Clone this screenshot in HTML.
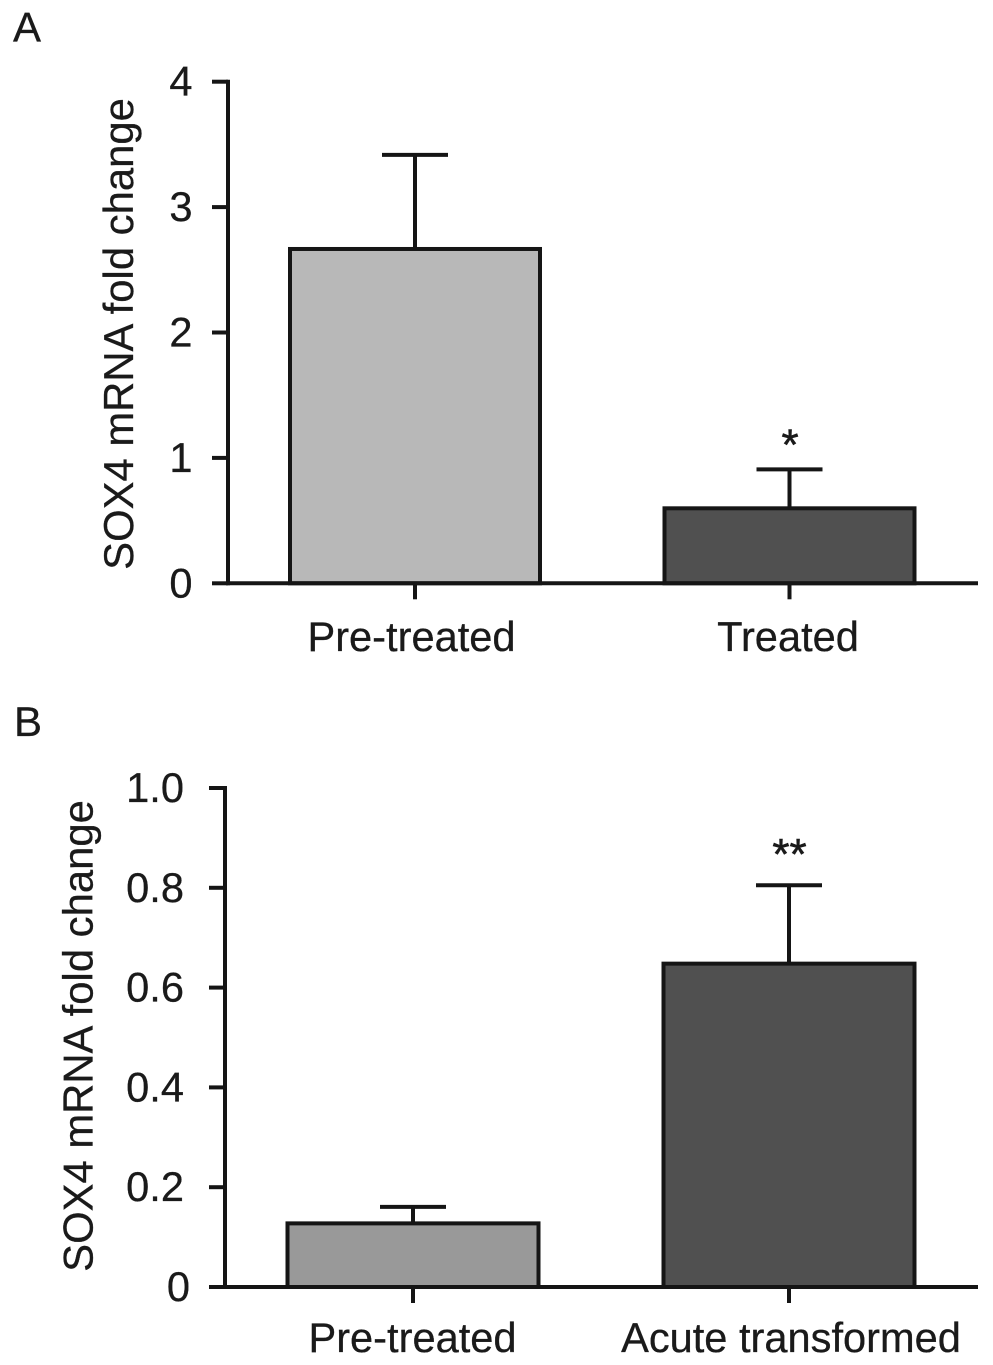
<!DOCTYPE html>
<html>
<head>
<meta charset="utf-8">
<style>
html,body{margin:0;padding:0;background:#fff;}
svg{display:block;}
text{font-family:"Liberation Sans",Arial,sans-serif;fill:#1a1a1a;stroke:#1a1a1a;stroke-width:0.3;}
</style>
</head>
<body>
<svg id="chart" width="993" height="1365" viewBox="0 0 993 1365" xmlns="http://www.w3.org/2000/svg"></svg>
<script>
// Panel A data
const categoriesA = ["Pre-treated", "Treated"];
const valuesA = [2.666, 0.598];
const errorsA = [0.75, 0.31];
const colorsA = ["#b8b8b8", "#505050"];
const ticksA = [0, 1, 2, 3, 4];
const tickLabelsA = ["0", "1", "2", "3", "4"];
const marksA = ["", "*"];

// Panel B data
const categoriesB = ["Pre-treated", "Acute transformed"];
const valuesB = [0.1275, 0.648];
const errorsB = [0.033, 0.157];
const colorsB = ["#999999", "#505050"];
const ticksB = [0, 0.2, 0.4, 0.6, 0.8, 1.0];
const tickLabelsB = ["0", "0.2", "0.4", "0.6", "0.8", "1.0"];
const marksB = ["", "**"];

const svg = document.getElementById('chart');
const NS = 'http://www.w3.org/2000/svg';
function mk(tag, attrs, name, txt) {
  const el = document.createElementNS(NS, tag);
  for (const k in attrs) el.setAttribute(k, attrs[k]);
  
  
  if (txt !== undefined) el.textContent = txt;
  svg.appendChild(el);
  return el;
}
function drawPanel(p) {
  const y = v => p.y0 + (p.y1 - p.y0) * (v - p.min) / (p.max - p.min);
  const sw = 4, col = '#151515', fs = 41.6;
  mk('text', {x: p.letterX, y: p.letterY, 'font-size': 42}, p.id + '-panel-label', p.letter);
  p.values.forEach((v, i) => {
    const cx = p.centers[i];
    const top = y(v), errTop = y(v + p.errors[i]);
    mk('line', {x1: cx, x2: cx, y1: top, y2: errTop, stroke: col, 'stroke-width': sw}, p.id + '-error-stem-' + i);
    mk('line', {x1: cx - 33, x2: cx + 33, y1: errTop, y2: errTop, stroke: col, 'stroke-width': sw}, p.id + '-error-cap-' + i);
    mk('rect', {x: cx - p.barW / 2, y: top, width: p.barW, height: y(0) - top, fill: p.colors[i], stroke: col, 'stroke-width': sw}, p.id + '-bar-' + i);
    mk('line', {x1: cx, x2: cx, y1: y(0), y2: y(0) + 16, stroke: col, 'stroke-width': sw}, p.id + '-x-tick-' + i);
    mk('text', {x: p.labelCenters[i], y: p.catY, 'text-anchor': 'middle', 'font-size': fs}, p.id + '-x-label-' + i, p.categories[i]);
    if (p.marks[i]) mk('text', {x: cx + 0.5, y: errTop - p.markGap, 'text-anchor': 'middle', 'font-size': 44, style: 'stroke-width:0.6'}, p.id + '-significance-' + i, p.marks[i]);
  });
  mk('line', {x1: p.axisX, x2: p.axisX, y1: y(p.max) - 2, y2: y(0) + 2, stroke: col, 'stroke-width': sw}, p.id + '-y-axis');
  mk('line', {x1: p.axisX - 2, x2: 978, y1: y(0), y2: y(0), stroke: col, 'stroke-width': sw}, p.id + '-x-axis');
  p.ticks.forEach((t, i) => {
    mk('line', {x1: p.axisX - 16, x2: p.axisX, y1: y(t), y2: y(t), stroke: col, 'stroke-width': sw}, p.id + '-y-tick-' + i);
    mk('text', {x: t === 0 ? p.zeroRight : p.labelRight, y: y(t) + 14, 'text-anchor': 'end', 'font-size': fs}, p.id + '-y-tick-label-' + i, p.tickLabels[i]);
  });
  mk('text', {x: 0, y: 0, 'text-anchor': 'middle', 'font-size': 41.8, transform: 'translate(' + p.titleX + ' ' + p.titleY + ') rotate(-90)'}, p.id + '-y-axis-title', 'SOX4 mRNA fold change');
}
drawPanel({
  id: 'panel-a', letter: 'A', letterX: 13, letterY: 41.5,
  min: 0, max: 4, y0: 583.3, y1: 81.7, axisX: 228,
  centers: [415, 789.5], labelCenters: [411.5, 788], barW: 250, catY: 651, titleX: 133, titleY: 334,
  labelRight: 192.5, zeroRight: 192.5, markGap: 10,
  categories: categoriesA, values: valuesA, errors: errorsA, colors: colorsA,
  ticks: ticksA, tickLabels: tickLabelsA, marks: marksA
});
drawPanel({
  id: 'panel-b', letter: 'B', letterX: 14, letterY: 736,
  min: 0, max: 1, y0: 1287, y1: 788, axisX: 225,
  centers: [413, 789], labelCenters: [412.5, 791], barW: 251, catY: 1352, titleX: 92.5, titleY: 1036,
  labelRight: 184, zeroRight: 190, markGap: 16.5,
  categories: categoriesB, values: valuesB, errors: errorsB, colors: colorsB,
  ticks: ticksB, tickLabels: tickLabelsB, marks: marksB
});
</script>
</body>
</html>
